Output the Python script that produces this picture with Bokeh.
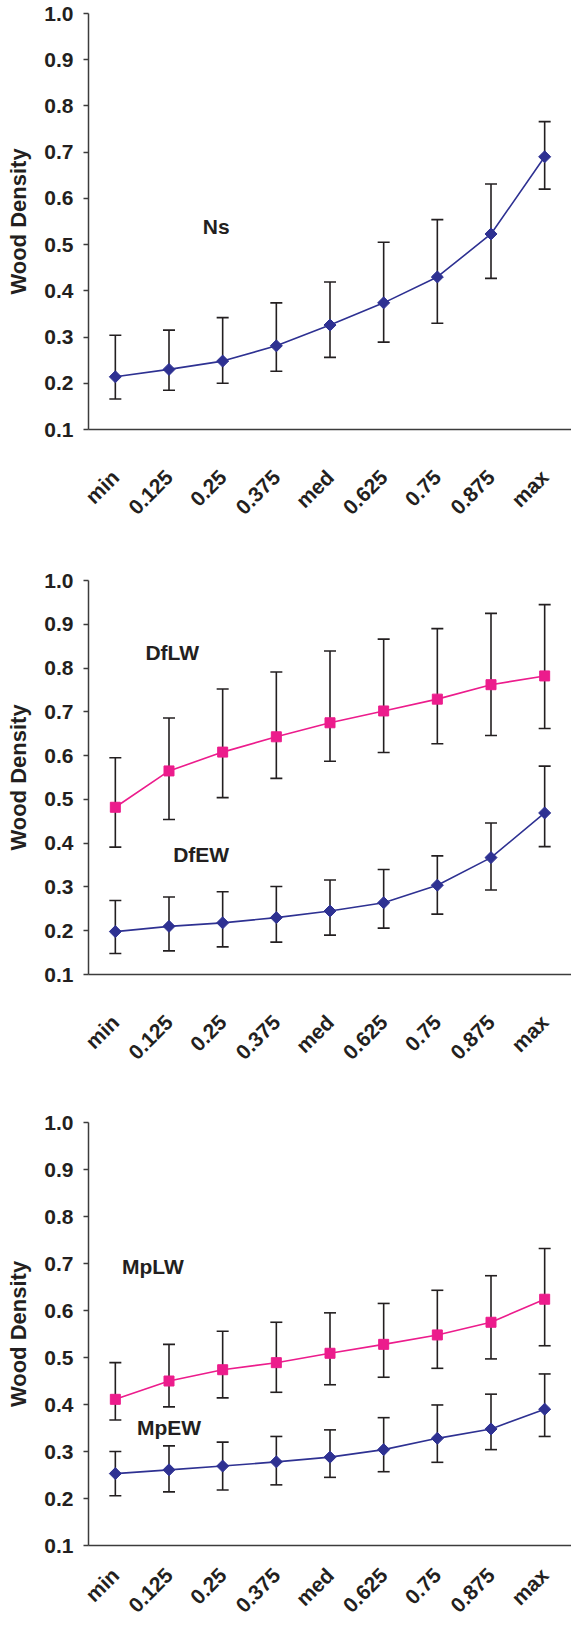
import math
from bokeh.plotting import figure
from bokeh.layouts import column
from bokeh.models import (Range1d, FixedTicker, PrintfTickFormatter, Whisker,
                          TeeHead, ColumnDataSource, Label)
from bokeh.embed import file_html
from bokeh.resources import INLINE

# ---------------- data ----------------
categories = ["min", "0.125", "0.25", "0.375", "med", "0.625", "0.75", "0.875", "max"]
y_ticks = [0.1, 0.2, 0.3, 0.4, 0.5, 0.6, 0.7, 0.8, 0.9, 1.0]

ns_mean  = [0.214, 0.230, 0.248, 0.281, 0.326, 0.374, 0.430, 0.523, 0.690]
ns_upper = [0.304, 0.315, 0.342, 0.374, 0.419, 0.505, 0.554, 0.631, 0.766]
ns_lower = [0.166, 0.185, 0.200, 0.226, 0.256, 0.289, 0.330, 0.427, 0.620]

dflw_mean  = [0.482, 0.565, 0.608, 0.643, 0.675, 0.702, 0.729, 0.762, 0.782]
dflw_upper = [0.595, 0.686, 0.752, 0.791, 0.839, 0.866, 0.890, 0.925, 0.945]
dflw_lower = [0.391, 0.454, 0.504, 0.548, 0.587, 0.607, 0.627, 0.646, 0.662]

dfew_mean  = [0.198, 0.210, 0.218, 0.230, 0.245, 0.264, 0.304, 0.367, 0.469]
dfew_upper = [0.269, 0.277, 0.289, 0.301, 0.316, 0.340, 0.371, 0.446, 0.576]
dfew_lower = [0.148, 0.154, 0.163, 0.174, 0.190, 0.206, 0.238, 0.293, 0.392]

mplw_mean  = [0.411, 0.450, 0.474, 0.489, 0.509, 0.528, 0.548, 0.575, 0.624]
mplw_upper = [0.489, 0.528, 0.556, 0.575, 0.595, 0.615, 0.643, 0.674, 0.732]
mplw_lower = [0.367, 0.395, 0.414, 0.426, 0.442, 0.458, 0.477, 0.497, 0.525]

mpew_mean  = [0.253, 0.261, 0.269, 0.278, 0.288, 0.304, 0.328, 0.348, 0.390]
mpew_upper = [0.300, 0.312, 0.320, 0.332, 0.346, 0.372, 0.399, 0.422, 0.465]
mpew_lower = [0.206, 0.214, 0.218, 0.229, 0.245, 0.257, 0.277, 0.304, 0.332]

# ---------------- styles ----------------
FONT = "Liberation Sans"
TXT = "#231f20"
BLUE = "#2e3192"
PINK = "#ec1c8c"
BAR = "#231f20"
AXIS = "#3c3c3c"

xpos = [i + 0.5 for i in range(len(categories))]


def make_fig(width, height, left, top, bottom, xstandoff):
    p = figure(width=width, height=height, output_backend="svg",
               toolbar_location=None,
               x_range=Range1d(0, len(categories)),
               y_range=Range1d(y_ticks[0], y_ticks[-1]),
               min_border_left=left, min_border_top=top,
               min_border_bottom=bottom, min_border_right=0)
    p.outline_line_color = None
    p.xgrid.visible = False
    p.ygrid.visible = False
    p.background_fill_color = "white"
    p.border_fill_color = "white"

    ya = p.yaxis[0]
    ya.ticker = FixedTicker(ticks=y_ticks)
    ya.formatter = PrintfTickFormatter(format="%.1f")
    ya.axis_label = "Wood Density"
    ya.axis_label_text_font = FONT
    ya.axis_label_text_font_style = "bold"
    ya.axis_label_text_font_size = "22px"
    ya.axis_label_text_color = TXT
    ya.axis_label_standoff = 10
    ya.major_label_text_font = FONT
    ya.major_label_text_font_style = "bold"
    ya.major_label_text_font_size = "21px"
    ya.major_label_text_color = TXT
    ya.major_label_standoff = 10
    ya.major_tick_in = 0
    ya.major_tick_out = 5
    ya.minor_tick_line_color = None
    ya.axis_line_color = AXIS
    ya.axis_line_width = 1.5
    ya.major_tick_line_color = AXIS
    ya.major_tick_line_width = 1.5

    xa = p.xaxis[0]
    xa.ticker = FixedTicker(ticks=xpos)
    xa.major_label_overrides = {x: c for x, c in zip(xpos, categories)}
    xa.major_label_orientation = math.pi / 4
    xa.major_label_text_font = FONT
    xa.major_label_text_font_style = "bold"
    xa.major_label_text_font_size = "21px"
    xa.major_label_text_line_height = 1.0
    xa.major_label_text_color = TXT
    xa.major_label_standoff = xstandoff
    xa.major_tick_line_color = None
    xa.major_tick_in = 0
    xa.major_tick_out = 0
    xa.minor_tick_line_color = None
    xa.axis_line_color = AXIS
    xa.axis_line_width = 1.5
    return p


def add_series(p, mean, upper, lower, color, marker):
    src = ColumnDataSource(dict(x=xpos, m=mean, u=upper, l=lower))
    w = Whisker(source=src, base="x", upper="u", lower="l", dimension="height",
                line_color=BAR, line_width=1.6,
                upper_head=TeeHead(size=12, line_color=BAR, line_width=1.6),
                lower_head=TeeHead(size=12, line_color=BAR, line_width=1.6))
    p.add_layout(w)
    p.line("x", "m", source=src, line_color=color, line_width=1.6)
    if marker == "diamond":
        p.scatter("x", "m", source=src, marker="square", angle=math.pi / 4,
                  size=8.5, fill_color=color, line_color=color)
    else:
        p.scatter("x", "m", source=src, marker="square",
                  size=10, fill_color=color, line_color=color)


def add_label(p, x, y, text):
    p.add_layout(Label(x=x, y=y, text=text, text_align="center",
                       text_baseline="middle", text_font=FONT,
                       text_font_style="bold", text_font_size="21px",
                       text_color=TXT))


p1 = make_fig(571, 567, 82, 13, 138, 44)
add_series(p1, ns_mean, ns_upper, ns_lower, BLUE, "diamond")
add_label(p1, 2.38, 0.539, "Ns")

p2 = make_fig(571, 542, 84, 13, 135, 44)
add_series(p2, dflw_mean, dflw_upper, dflw_lower, PINK, "square")
add_series(p2, dfew_mean, dfew_upper, dfew_lower, BLUE, "diamond")
add_label(p2, 1.56, 0.835, "DfLW")
add_label(p2, 2.10, 0.375, "DfEW")

p3 = make_fig(571, 518, 88, 13, 80, 26)
add_series(p3, mplw_mean, mplw_upper, mplw_lower, PINK, "square")
add_series(p3, mpew_mean, mpew_upper, mpew_lower, BLUE, "diamond")
add_label(p3, 1.20, 0.693, "MpLW")
add_label(p3, 1.50, 0.352, "MpEW")

layout = column(p1, p2, p3, spacing=0)
open("out.html", "w").write(file_html(layout, INLINE))
